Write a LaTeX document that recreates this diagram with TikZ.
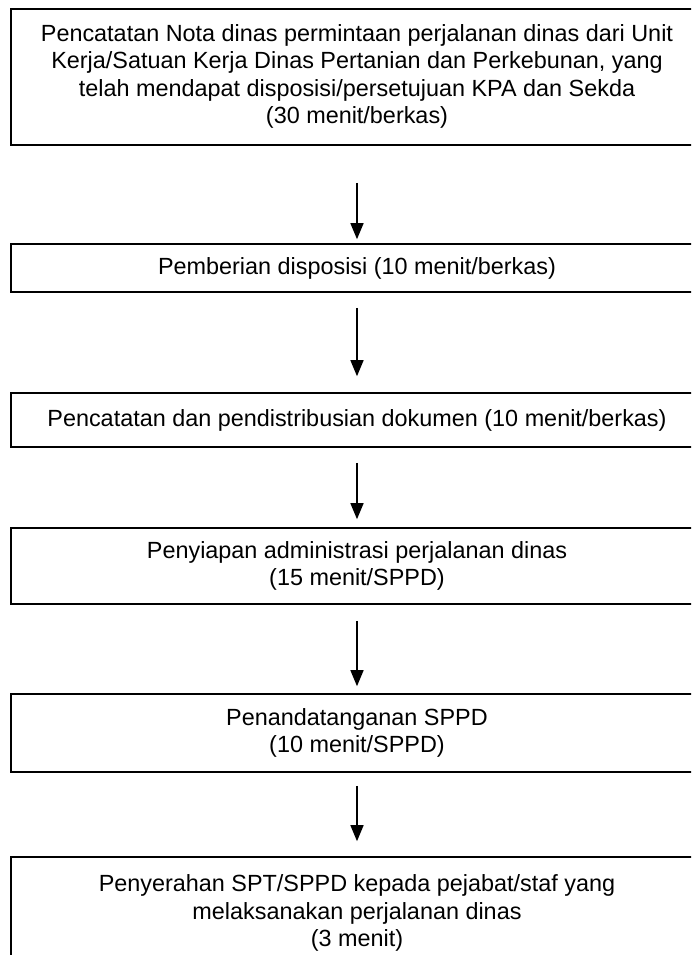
\documentclass[tikz,border=0pt]{standalone}
\usepackage{fontspec}
\setmainfont{Liberation Sans}
\usetikzlibrary{arrows.meta}
\begin{document}
\begin{tikzpicture}[x=1pt,y=-1pt,
  box/.style={draw=black,line width=1.6pt,minimum width=692pt,align=center,
    font=\fontsize{23.4}{27.5}\selectfont,inner sep=0pt,anchor=center},
  arr/.style={-{Triangle[width=13pt,length=16pt]},line width=1.4pt}]
\useasboundingbox (0,0) rectangle (691,955);
\fill[white] (0,0) rectangle (691,955);
\clip (0,0) rectangle (691,955);
\node[box,minimum height=136pt] (b1) at (357,77)
  {\raisebox{5pt}{\begin{tabular}{@{}c@{}}Pencatatan Nota dinas permintaan perjalanan dinas dari Unit\\
   Kerja/Satuan Kerja Dinas Pertanian dan Perkebunan, yang\\
   telah mendapat disposisi/persetujuan KPA dan Sekda\\
   (30 menit/berkas)\end{tabular}}};
\node[box,minimum height=48pt] (b2) at (357,268) {Pemberian disposisi (10 menit/berkas)};
\node[box,minimum height=54pt] (b3) at (357,420) {Pencatatan dan pendistribusian dokumen (10 menit/berkas)};
\node[box,minimum height=76pt] (b4) at (357,566) {Penyiapan administrasi perjalanan dinas\\(15 menit/SPPD)};
\node[box,minimum height=78pt] (b5) at (357,733) {Penandatanganan SPPD\\(10 menit/SPPD)};
\node[box,minimum height=112pt] (b6) at (357,913) {Penyerahan SPT/SPPD kepada pejabat/staf yang\\melaksanakan perjalanan dinas\\(3 menit)};
\draw[arr,shorten <=37pt,shorten >=4pt] (b1.south) -- (b2.north);
\draw[arr,shorten <=15pt,shorten >=16pt] (b2.south) -- (b3.north);
\draw[arr,shorten <=15pt,shorten >=8pt] (b3.south) -- (b4.north);
\draw[arr,shorten <=16pt,shorten >=7pt] (b4.south) -- (b5.north);
\draw[arr,shorten <=13pt,shorten >=15pt] (b5.south) -- (b6.north);
\end{tikzpicture}
\end{document}
